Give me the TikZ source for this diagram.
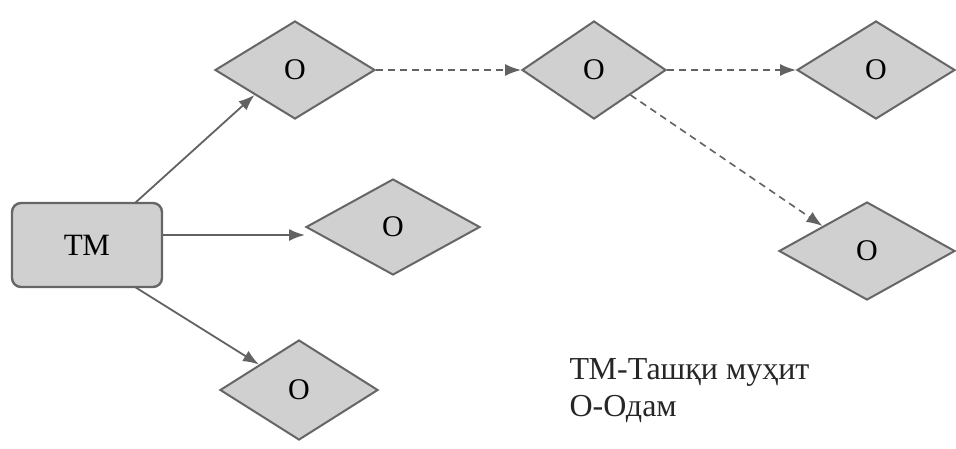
\documentclass[tikz,border=0pt]{standalone}
\usepackage{fontspec}
\setmainfont{Liberation Serif}[Ligatures=TeX]
\newfontfamily\testserif{DejaVu Serif}
\usetikzlibrary{shapes.geometric,arrows.meta}
\definecolor{boxfill}{HTML}{D0D0D0}
\definecolor{boxline}{HTML}{666666}
\definecolor{arrowcol}{HTML}{626262}
\begin{document}
\begin{tikzpicture}[x=1pt,y=-1pt,
  person/.style={diamond,draw=boxline,fill=boxfill,line width=2pt,inner sep=0pt,
    minimum width=#1,minimum height=98pt,font=\fontsize{30}{32}\selectfont},
  person/.default=160pt,
  envbox/.style={rectangle,rounded corners=9pt,draw=boxline,fill=boxfill,line width=2.4pt,
    minimum width=150pt,minimum height=84pt,font=\fontsize{31}{33}\selectfont},
  solidarrow/.style={draw=arrowcol,line width=1.8pt,-{Latex[length=16pt,width=12pt]}},
  dasharrow/.style={draw=arrowcol,line width=1.6pt,dash pattern=on 7pt off 5pt,-{Latex[length=16pt,width=12pt]}},
  legend/.style={anchor=west,font=\fontsize{32}{34}\selectfont,text=black!85}
]
\useasboundingbox (0,0) rectangle (956,448);
\node[envbox] (tm) at (87,245) {ТМ};
\node[person=160pt] (d1) at (295,70) {О};
\node[person=144pt] (d2) at (594,70) {О};
\node[person=158pt] (d3) at (876,70) {О};
\node[person=174pt,minimum height=96pt] (d4) at (393,227) {О};
\node[person=176pt] (d5) at (867,251) {О};
\node[person=158pt,minimum height=100pt] (d6) at (299,390) {О};
\coordinate (t1) at (135,203);
\coordinate (t3) at (135,287);
\draw[solidarrow] (t1) -- (d1.south west);
\draw[solidarrow] (tm.east |- 0,235) -- (d4.west |- 0,235);
\draw[solidarrow] (t3) -- (d6.north west);
\draw[dasharrow] (d1.east) -- (d2.west);
\draw[dasharrow] (d2.east) -- (d3.west);
\draw[dasharrow] (d2.south east) -- (d5.north west);
\node[legend] (l1) at (566,372) {ТМ-Ташқи муҳит};
\node[legend] (l2) at (566,409) {О-Одам};
\end{tikzpicture}
\end{document}
